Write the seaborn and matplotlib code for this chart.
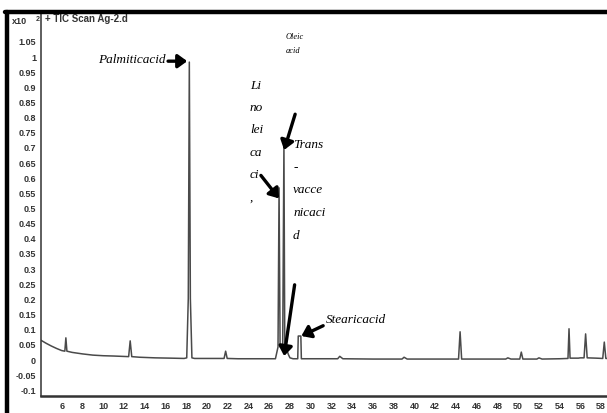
import matplotlib
matplotlib.use("Agg")
import matplotlib.pyplot as plt
from matplotlib.lines import Line2D
import numpy as np
import pandas as pd
import seaborn as sns

# retention time (min) and TIC abundance (x10^2)
rt = [4.0, 4.5, 5.0, 5.5, 6.0, 6.3, 6.4, 6.5, 7.0, 8.0, 9.0, 10.0, 11.0,
      12.45, 12.6, 12.75, 13.5, 15.0, 16.5, 17.8,
      18.05, 18.2, 18.3, 18.4, 18.55, 18.8, 20.0,
      21.65, 21.8, 21.95, 23.0, 25.0, 26.6,
      26.85, 26.95, 27.05, 27.3, 27.42, 27.5, 27.7, 27.85, 28.0, 28.3,
      28.75, 28.8, 29.05, 29.1, 29.4, 31.0,
      32.6, 32.8, 33.1, 36.0, 38.8, 39.0, 39.3, 42.0,
      44.25, 44.4, 44.55, 46.0, 48.8, 49.0, 49.3,
      50.15, 50.3, 50.45, 51.8, 52.0, 52.3, 54.0,
      54.8, 54.9, 55.0, 55.8, 56.0, 56.35, 56.5, 56.65, 57.5,
      58.15, 58.3, 58.45, 59.0]
abundance = [0.062, 0.052, 0.043, 0.035, 0.028, 0.026, 0.07, 0.026, 0.022, 0.017, 0.013, 0.011, 0.010,
             0.008, 0.060, 0.008, 0.006, 0.004, 0.003, 0.002,
             0.004, 0.20, 0.98, 0.20, 0.004, 0.002, 0.002,
             0.002, 0.026, 0.002, 0.001, 0.001, 0.001,
             0.04, 0.565, 0.04, 0.04, 0.71, 0.04, 0.03, 0.015, 0.004, 0.001,
             0.001, 0.076, 0.076, 0.001, 0.001, 0.001,
             0.001, 0.009, 0.001, 0.0, 0.0, 0.006, 0.0, 0.0,
             0.0, 0.09, 0.0, 0.0, 0.0, 0.004, 0.0,
             0.0, 0.023, 0.0, 0.0, 0.004, 0.0, 0.001,
             0.002, 0.10, 0.003, 0.003, 0.004, 0.004, 0.083, 0.004, 0.003,
             0.002, 0.056, 0.002, 0.002]

x_ticks = list(range(6, 59, 2))
y_ticks = [-0.1, -0.05, 0, 0.05, 0.1, 0.15, 0.2, 0.25, 0.3, 0.35, 0.4, 0.45, 0.5,
           0.55, 0.6, 0.65, 0.7, 0.75, 0.8, 0.85, 0.9, 0.95, 1, 1.05]
y_labels = ["-0.1", "-0.05", "0", "0.05", "0.1", "0.15", "0.2", "0.25", "0.3", "0.35",
            "0.4", "0.45", "0.5", "0.55", "0.6", "0.65", "0.7", "0.75", "0.8", "0.85",
            "0.9", "0.95", "1", "1.05"]

df = pd.DataFrame({"rt": rt, "abundance": abundance})

sns.set_style("white")
plt.rcParams["font.family"] = ["Liberation Sans", "DejaVu Sans"]

fig = plt.figure(figsize=(6.07, 4.14), dpi=100)
ax = fig.add_axes([0.0675, 0.041, 0.94, 0.923])

sns.lineplot(data=df, x="rt", y="abundance", sort=False, estimator=None,
             color="#4a4a4a", lw=1.1, ax=ax)

ax.set_xlim(4.0, 59.0)
ax.set_ylim(-0.122, 1.139)
ax.set_xticks(x_ticks)
ax.set_xticklabels([str(t) for t in x_ticks])
ax.set_yticks(y_ticks)
ax.set_yticklabels(y_labels)
ax.set_xlabel("")
ax.set_ylabel("")
ax.tick_params(axis="both", length=1.5, width=0.6, color="#444", pad=2,
               labelsize=6.5, labelcolor="#333")
for lab in ax.get_xticklabels() + ax.get_yticklabels():
    lab.set_fontweight("bold")
ax.spines["top"].set_visible(False)
ax.spines["right"].set_visible(False)
ax.spines["left"].set_linewidth(1.1)
ax.spines["left"].set_color("#333")
ax.spines["bottom"].set_linewidth(1.8)
ax.spines["bottom"].set_color("#333")

# header inside the plot
ax.text(4.35, 1.125, "+ TIC Scan Ag-2.d", fontsize=7, fontweight="bold",
        color="#333", va="center")
fig.text(0.019, 0.948, "x10", fontsize=6.5, fontweight="bold", color="#333", va="center")
fig.text(0.058, 0.953, "2", fontsize=5, fontweight="bold", color="#333", va="center")

# annotations
serif = dict(family="Liberation Serif", style="italic", color="black")
arrow = dict(arrowstyle="-|>,head_length=0.55,head_width=0.4", color="black", lw=2.4,
             shrinkA=0, shrinkB=0)

ax.text(16.0, 0.99, "Palmiticacid", ha="right", va="center", fontsize=9.5, **serif)
ax.annotate("", xy=(18.1, 0.983), xytext=(16.25, 0.983), arrowprops=arrow)

ax.text(27.6, 1.043, "Oleic\nacid", ha="left", va="center", fontsize=6,
        linespacing=1.9, **serif)

ax.text(24.15, 0.925, "Li\nno\nlei\nca\nci\n,", ha="left", va="top", fontsize=9.5,
        linespacing=2.15, **serif)
ax.annotate("", xy=(26.95, 0.53), xytext=(25.2, 0.606), arrowprops=arrow)

ax.text(28.3, 0.73, "Trans\n-\nvacce\nnicaci\nd", ha="left", va="top", fontsize=9.5,
        linespacing=2.2, **serif)
ax.annotate("", xy=(27.44, 0.69), xytext=(28.5, 0.808), arrowprops=arrow)

ax.annotate("", xy=(27.44, 0.01), xytext=(28.45, 0.245), arrowprops=arrow)

ax.text(31.5, 0.132, "Stearicacid", ha="left", va="center", fontsize=9.5, **serif)
ax.annotate("", xy=(29.1, 0.076), xytext=(31.2, 0.11), arrowprops=arrow)

# scanned page frame
fig.add_artist(Line2D([5 / 607, 1.0], [1 - 13 / 414, 1 - 13 / 414],
                      transform=fig.transFigure, color="black", lw=3.2))
fig.add_artist(Line2D([6.5 / 607, 6.5 / 607], [0.0, 1 - 13 / 414],
                      transform=fig.transFigure, color="black", lw=3.2))

fig.savefig("out.png", dpi=100)
